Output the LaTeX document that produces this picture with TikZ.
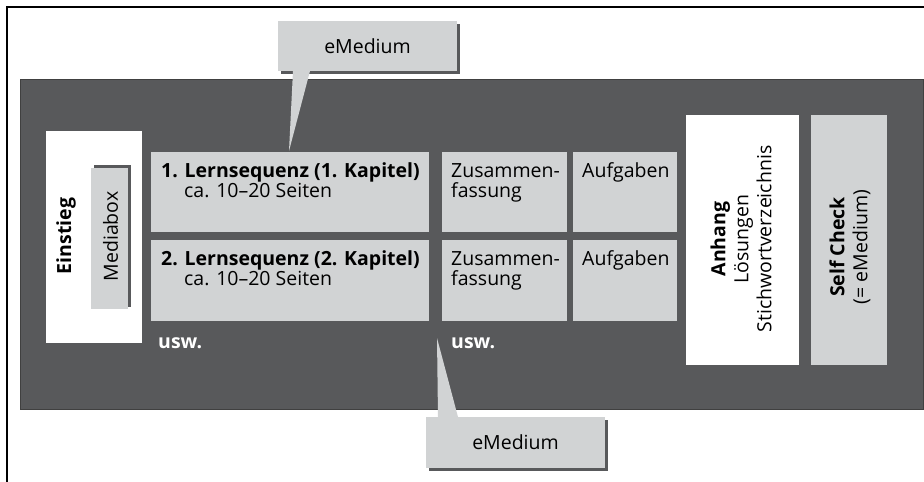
\documentclass[tikz,border=0pt]{standalone}
\usepackage{fontspec}
\setmainfont{Open Sans}
\definecolor{darkbg}{HTML}{58595B}
\definecolor{lightbox}{HTML}{D1D3D4}
\newcommand\dfont{\fontsize{19.5}{20}\selectfont}
\newcommand\rfont{\fontsize{19.5}{23}\selectfont}
\begin{document}
\begin{tikzpicture}[x=1pt,y=-1pt,
  rect/.style={anchor=north west, inner sep=0pt, outer sep=0pt, draw=none},
  lbl/.style={anchor=base west, inner sep=0pt, font=\dfont, text=black},
  usw/.style={anchor=base west, inner sep=0pt, font=\dfont\bfseries, text=white},
  rlbl/.style={rotate=90, inner sep=0pt, align=center, font=\rfont, text=black},
  ptr/.style={fill=lightbox, draw=none}]
\useasboundingbox (0,0) rectangle (924,482);
% frame
\draw[line width=2pt] (7,482) -- (7,7) -- (924,7);
% dark background
\node[rect, fill=darkbg, draw=black!75, line width=0.6pt, minimum width=903, minimum height=330] (bg) at (20,79) {};
% top eMedium callout
\node[rect, fill=darkbg, minimum width=179, minimum height=50] (topsh) at (281,24) {};
\node[rect, fill=lightbox, minimum width=179, minimum height=50, font=\dfont] (topem) at (278,21) {};
\node[font=\dfont] (topemT) at (topem.center) {eMedium};
\coordinate (toptip) at (289,151);
\fill[ptr] (topem.south west -| 293,0) -- (topem.south west -| 310,0) -- (toptip) -- cycle;
% Einstieg
\node[rect, fill=white, minimum width=96, minimum height=212] (ein) at (46,131) {};
\node[rlbl, font=\rfont\bfseries] (einT) at (66,236) {Einstieg};
\node[rect, fill=darkbg, minimum width=37, minimum height=142] (medsh) at (94,165) {};
\node[rect, fill=lightbox, minimum width=37, minimum height=141] (med) at (91,168) {};
\node[rlbl] (medT) at (110.5,236.5) {Mediabox};
% row 1
\node[rect, fill=lightbox, minimum width=278, minimum height=80] (ls1) at (151,152) {};
\node[lbl, font=\dfont\bfseries] (ls1a) at (161,177) {1. Lernsequenz (1. Kapitel)};
\node[lbl] (ls1b) at (184,197) {ca. 10–20 Seiten};
\node[rect, fill=lightbox, minimum width=125, minimum height=80] (zf1) at (442,152) {};
\node[lbl] (zf1a) at (451,177) {Zusammen-};
\node[lbl] (zf1b) at (451,197) {fassung};
\node[rect, fill=lightbox, minimum width=104, minimum height=80] (au1) at (573,152) {};
\node[lbl] (au1a) at (582,177) {Aufgaben};
% row 2
\node[rect, fill=lightbox, minimum width=278, minimum height=81] (ls2) at (151,240) {};
\node[lbl, font=\dfont\bfseries] (ls2a) at (161,265) {2. Lernsequenz (2. Kapitel)};
\node[lbl] (ls2b) at (184,285) {ca. 10–20 Seiten};
\node[rect, fill=lightbox, minimum width=125, minimum height=81] (zf2) at (442,240) {};
\node[lbl] (zf2a) at (451,265) {Zusammen-};
\node[lbl] (zf2b) at (451,285) {fassung};
\node[rect, fill=lightbox, minimum width=104, minimum height=81] (au2) at (573,240) {};
\node[lbl] (au2a) at (582,265) {Aufgaben};
% usw.
\node[usw] (usw1) at (158,348) {usw.};
\node[usw] (usw2) at (451,348) {usw.};
% Anhang
\node[rect, fill=white, minimum width=113, minimum height=250] (anh) at (686,115) {};
\node[rlbl] (anhT) at (741,239) {\textbf{Anhang}\\Lösungen\\Stichwortverzeichnis};
% Self Check
\node[rect, fill=lightbox, minimum width=76, minimum height=250] (sc) at (811,115) {};
\node[rlbl] (scT) at (850,247) {\textbf{Self Check}\\(= eMedium)};
% bottom eMedium callout
\node[rect, fill=darkbg, minimum width=179, minimum height=51] (botsh) at (429,420) {};
\node[rect, fill=lightbox, minimum width=179, minimum height=51] (botem) at (426,417) {};
\node[font=\dfont] (botemT) at (botem.center) {eMedium};
\coordinate (bottip) at (437,338);
\fill[ptr] (bottip) -- (botem.north west -| 438,0) -- (botem.north west -| 458,0) -- cycle;
\end{tikzpicture}
\end{document}
